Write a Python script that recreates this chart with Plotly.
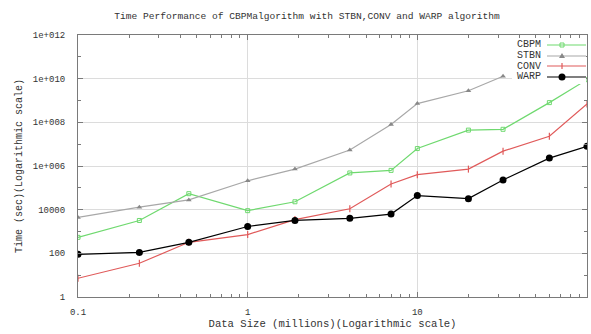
import plotly.graph_objects as go

# Data size (millions) at which each algorithm was timed
data_size = [0.1, 0.23, 0.45, 1, 1.9, 4, 7, 10, 20, 32, 60, 100]
data_size_stbn = [0.1, 0.23, 0.45, 1, 1.9, 4, 7, 10, 20, 32]

# Run time in seconds
time_cbpm = [5.4e2, 3.2e3, 5.4e4, 9.0e3, 2.3e4, 4.8e5, 6.3e5, 6.3e6, 4.4e7, 4.8e7, 8.0e8, 9.0e9]
time_stbn = [4.4e3, 1.3e4, 2.8e4, 2.1e5, 7.2e5, 5.4e6, 8.0e7, 7.2e8, 2.8e9, 1.3e10]
time_conv = [7.2, 3.5e1, 3.2e2, 7.2e2, 3.5e3, 1.1e4, 1.5e5, 4.0e5, 7.2e5, 4.8e6, 2.3e7, 7.0e8]
time_warp = [9.0e1, 1.1e2, 3.2e2, 1.7e3, 3.2e3, 4.0e3, 6.3e3, 4.4e4, 3.2e4, 2.3e5, 2.3e6, 8.0e6]

series_names = ["CBPM", "STBN", "CONV", "WARP"]
series_colors = ["#6fd96f", "#a8a8a8", "#e05a5a", "#000000"]

y_tickvals = [1, 1e2, 1e4, 1e6, 1e8, 1e10, 1e12]
y_ticktext = ["1", "100", "10000", "1e+006", "1e+008", "1e+010", "1e+012"]
x_tickvals = [0.1, 1, 10, 100]
x_ticktext = ["0.1", "1", "10", "100"]

W, H = 591, 334
ML, MR, MT, MB = 78, 4, 35, 37
FONT = "Liberation Mono"
TXT = "#333333"
LW = 1.2

fig = go.Figure()

fig.add_trace(go.Scatter(
    x=data_size, y=time_cbpm, name="CBPM", mode="lines+markers",
    line=dict(color=series_colors[0], width=LW),
    marker=dict(symbol="square-open", size=4, color=series_colors[0], line=dict(width=1))))
fig.add_trace(go.Scatter(
    x=data_size_stbn, y=time_stbn, name="STBN", mode="lines+markers",
    line=dict(color=series_colors[1], width=LW),
    marker=dict(symbol="triangle-up", size=5, color="#888888")))
fig.add_trace(go.Scatter(
    x=data_size, y=time_conv, name="CONV", mode="lines+markers",
    line=dict(color=series_colors[2], width=LW),
    marker=dict(symbol="line-ns", size=5, color=series_colors[2],
                line=dict(width=1.2, color=series_colors[2]))))
fig.add_trace(go.Scatter(
    x=data_size, y=time_warp, name="WARP", mode="lines+markers",
    line=dict(color=series_colors[3], width=LW),
    marker=dict(symbol="circle", size=7, color=series_colors[3])))

# Hand-drawn key in the top-right corner: label on the left, sample on the right
pw, ph = W - ML - MR, H - MT - MB


def px_x(px):
    return (px - ML) / pw


def px_y(py):
    return 1 - (py - MT) / ph


shapes = []
annotations = []
key_rows = [45, 56, 66, 77]
shapes.append(dict(type="rect", xref="paper", yref="paper",
                   x0=px_x(512), x1=px_x(586), y0=px_y(84), y1=px_y(39),
                   fillcolor="white", line=dict(width=0), layer="above"))
for name, color, row in zip(series_names, series_colors, key_rows):
    annotations.append(dict(text=name, xref="paper", yref="paper",
                            x=px_x(543), y=px_y(row), xanchor="right", yanchor="middle",
                            showarrow=False, font=dict(family=FONT, size=10, color=TXT)))
    shapes.append(dict(type="line", xref="paper", yref="paper",
                       x0=px_x(547), x1=px_x(586), y0=px_y(row), y1=px_y(row),
                       line=dict(color=color, width=LW), layer="above"))
# key markers
cx = px_x(562)
shapes.append(dict(type="rect", xref="paper", yref="paper", xsizemode="pixel", ysizemode="pixel",
                   xanchor=cx, yanchor=px_y(key_rows[0]), x0=-2, x1=2, y0=-2, y1=2,
                   line=dict(color=series_colors[0], width=1), layer="above"))
shapes.append(dict(type="path", xref="paper", yref="paper", xsizemode="pixel", ysizemode="pixel",
                   xanchor=cx, yanchor=px_y(key_rows[1]), path="M -3,-2 L 3,-2 L 0,3 Z",
                   fillcolor="#888888", line=dict(width=0), layer="above"))
shapes.append(dict(type="line", xref="paper", yref="paper", xsizemode="pixel", ysizemode="pixel",
                   xanchor=cx, yanchor=px_y(key_rows[2]), x0=0, x1=0, y0=-3, y1=3,
                   line=dict(color=series_colors[2], width=1.2), layer="above"))
shapes.append(dict(type="circle", xref="paper", yref="paper", xsizemode="pixel", ysizemode="pixel",
                   xanchor=cx, yanchor=px_y(key_rows[3]), x0=-3.5, x1=3.5, y0=-3.5, y1=3.5,
                   fillcolor="black", line=dict(width=0), layer="above"))

axis_common = dict(
    type="log", showline=True, linecolor="#7a7a7a", linewidth=1, mirror="allticks",
    ticks="inside", ticklen=5, tickcolor="#7a7a7a", tickwidth=1,
    showgrid=True, gridcolor="#dcdcdc", gridwidth=1, zeroline=False,
    tickfont=dict(family=FONT, size=9, color=TXT),
)

fig.update_layout(
    width=W, height=H,
    margin=dict(l=ML, r=MR, t=MT, b=MB),
    paper_bgcolor="white", plot_bgcolor="white",
    showlegend=False,
    title=dict(text="Time Performance of CBPMalgorithm with STBN,CONV and WARP algorithm",
               x=307 / W, xref="container", xanchor="center",
               y=1 - 16 / H, yref="container", yanchor="middle",
               font=dict(family=FONT, size=9.6, color=TXT)),
    xaxis=dict(**axis_common, range=[-1, 2], tickvals=x_tickvals, ticktext=x_ticktext,
               ticklabelstandoff=6,
               minor=dict(tickvals=[0.2, 0.3, 0.4, 0.5, 0.6, 0.7, 0.8, 0.9,
                                    2, 3, 4, 5, 6, 7, 8, 9, 20, 30, 40, 50, 60, 70, 80, 90],
                          ticks="inside", ticklen=3, tickcolor="#7a7a7a", showgrid=False),
               title=dict(text="Data Size (millions)(Logarithmic scale)", standoff=2,
                          font=dict(family=FONT, size=10.6, color=TXT))),
    yaxis=dict(**axis_common, range=[0, 12], tickvals=y_tickvals, ticktext=y_ticktext,
               ticklabelstandoff=10,
               minor=dict(tickvals=[10, 1e3, 1e5, 1e7, 1e9, 1e11],
                          ticks="inside", ticklen=3, tickcolor="#7a7a7a", showgrid=False),
               title=dict(text="Time (sec)(Logarithmic scale)", standoff=8,
                          font=dict(family=FONT, size=10, color=TXT))),
    shapes=shapes,
    annotations=annotations,
)

fig.write_html("out.html")
